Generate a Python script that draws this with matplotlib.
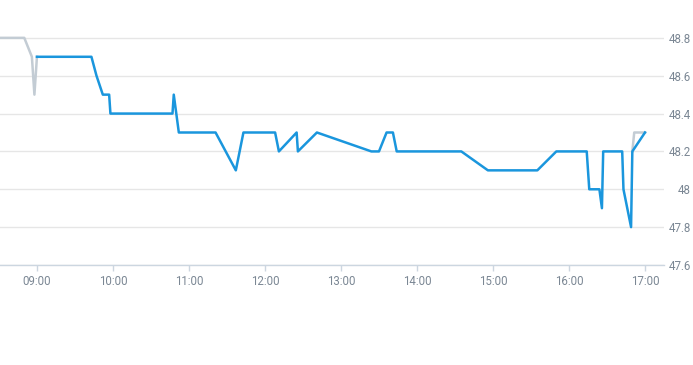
"""Intraday price line chart."""

import matplotlib

matplotlib.use("Agg")

import matplotlib.dates as mdates
import matplotlib.pyplot as plt
import pandas as pd

plt.rcParams["font.family"] = ["Roboto", "DejaVu Sans"]

# ── Data ──────────────────────────────────────────────────────────────────────

DAY = "2024-01-02 "

# pre-session (grey) part
PRE_TIMES = ["08:30:50", "08:50:00", "08:56:00", "08:58:00", "09:00:00"]
PRE_VALUES = [48.8, 48.8, 48.7, 48.5, 48.7]

# session (blue) part
TIMES = [
    "09:00", "09:43", "09:47", "09:52", "09:57", "09:58", "10:47", "10:48",
    "10:50", "10:52", "11:21", "11:37", "11:43", "12:08", "12:11", "12:25",
    "12:26", "12:41", "13:24", "13:30", "13:36", "13:41", "13:44", "14:35",
    "14:56", "15:35", "15:50", "16:14", "16:16", "16:24", "16:26", "16:27",
    "16:42", "16:43", "16:49", "16:50", "17:00",
]
VALUES = [
    48.7, 48.7, 48.6, 48.5, 48.5, 48.4, 48.4, 48.5,
    48.4, 48.3, 48.3, 48.1, 48.3, 48.3, 48.2, 48.3,
    48.2, 48.3, 48.2, 48.2, 48.3, 48.3, 48.2, 48.2,
    48.1, 48.1, 48.2, 48.2, 48.0, 48.0, 47.9, 48.2,
    48.2, 48.0, 47.8, 48.2, 48.3,
]

# post-session (grey) part
POST_TIMES = ["16:50:00", "16:51:30", "17:00:00"]
POST_VALUES = [48.2, 48.3, 48.3]

Y_TICKS = [47.6, 47.8, 48.0, 48.2, 48.4, 48.6, 48.8]
Y_LABELS = ["47.6", "47.8", "48", "48.2", "48.4", "48.6", "48.8"]


def to_dt(times):
    return pd.to_datetime([DAY + t for t in times], format="mixed")


BLUE = "#1a96dd"
GREY = "#c3ccd4"
LABEL = "#7b8794"

# ── Chart ─────────────────────────────────────────────────────────────────────

fig = plt.figure(figsize=(6.93, 3.65), dpi=100)
ax = fig.add_axes([0.0, 0.274, 664 / 693, 0.726])

ax.plot(to_dt(PRE_TIMES), PRE_VALUES, color=GREY, linewidth=1.8, zorder=3)
ax.plot(to_dt(POST_TIMES), POST_VALUES, color=GREY, linewidth=1.8, zorder=3)
ax.plot(to_dt(TIMES), VALUES, color=BLUE, linewidth=1.8, zorder=4)

ax.set_xlim(pd.Timestamp(DAY + "08:30:50"), pd.Timestamp(DAY + "17:15:00"))
ax.set_ylim(47.6, 49.0)

ax.set_yticks(Y_TICKS)
ax.set_yticklabels(Y_LABELS)
ax.yaxis.tick_right()
ax.tick_params(axis="y", length=0, pad=19.5, labelsize=8.3, labelcolor=LABEL)
for lbl in ax.get_yticklabels():
    lbl.set_horizontalalignment("right")

ax.xaxis.set_major_locator(mdates.HourLocator())
ax.xaxis.set_major_formatter(mdates.DateFormatter("%H:%M"))
ax.tick_params(axis="x", length=4, width=1, color="#ccd6e0", pad=3,
               labelsize=8.3, labelcolor=LABEL)

ax.grid(axis="y", color="#e6e6e6", linewidth=1)
ax.set_axisbelow(True)
for side in ["top", "right", "left"]:
    ax.spines[side].set_visible(False)
ax.spines["bottom"].set_color("#ccd6e0")
ax.spines["bottom"].set_linewidth(1)

fig.savefig("out.png", dpi=100)
plt.close(fig)
